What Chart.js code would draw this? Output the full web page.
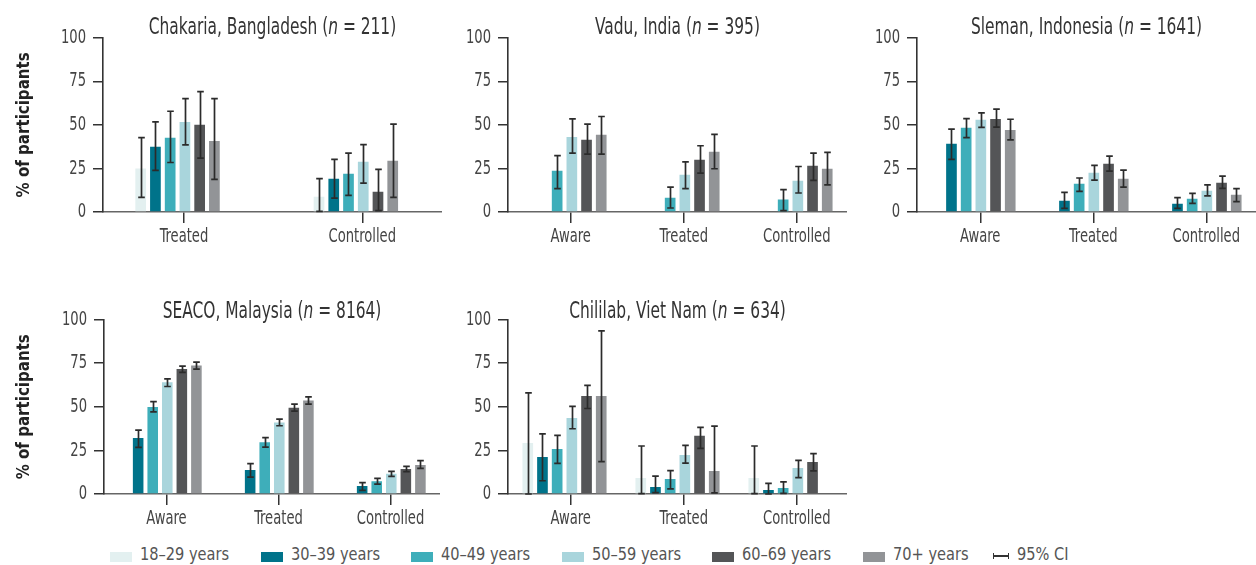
<!DOCTYPE html>
<html>
<head>
<meta charset="utf-8">
<script src="https://cdn.jsdelivr.net/npm/chart.js@4.4.0/dist/chart.umd.min.js"></script>
<style>
html, body { margin: 0; padding: 0; background: #fff; }
body { width: 1256px; height: 565px; position: relative; overflow: hidden;
  font-family: 'DejaVu Sans Condensed', 'Liberation Sans Narrow', sans-serif; }
canvas { position: absolute; }
.lg-box { position: absolute; width: 22px; height: 10px; }
.lg-txt { position: absolute; font-size: 18px; line-height: 20px; color: #555; white-space: nowrap;
  transform: scaleX(0.9); transform-origin: 0 50%; }
.lg-ci { position: absolute; width: 14px; height: 6px; border-left: 1.5px solid #333; border-right: 1.5px solid #333; }
.lg-ci::after { content: ''; position: absolute; left: 0; right: 0; top: 2.25px; height: 1.5px; background: #333; }
</style>
</head>
<body>
<canvas id="c0" data-condense="0.73" data-condense-bold="0.93"></canvas>
<canvas id="c1" data-condense="0.73" data-condense-bold="0.93"></canvas>
<canvas id="c2" data-condense="0.73" data-condense-bold="0.93"></canvas>
<canvas id="c3" data-condense="0.73" data-condense-bold="0.93"></canvas>
<canvas id="c4" data-condense="0.73" data-condense-bold="0.93"></canvas>
<div id="legend"></div>
<script>
// ---------------- DATA ----------------
const ageGroups = ['18–29 years', '30–39 years', '40–49 years', '50–59 years', '60–69 years', '70+ years'];
const siteNames = ['Chakaria, Bangladesh', 'Vadu, India', 'Sleman, Indonesia', 'SEACO, Malaysia', 'Chililab, Viet Nam'];
const siteN = [211, 395, 1641, 8164, 634];
const chakariaCategories = ['Treated', 'Controlled'];
const outcomeCategories = ['Aware', 'Treated', 'Controlled'];
const yTicks = [0, 25, 50, 75, 100];
const yAxisLabel = '% of participants';
const ciLabel = '95% CI';

// rows = age groups, columns = categories (%)
const chakariaPct  = [[25.0, 8.8], [37.4, 19.1], [42.6, 21.9], [51.7, 28.8], [50.0, 11.6], [40.8, 29.4]];
const chakariaLow  = [[8.4, 0.4], [23.9, 8.0], [28.4, 9.5], [38.5, 16.6], [30.9, 0.8], [18.7, 8.4]];
const chakariaHigh = [[42.7, 19.1], [51.7, 30.2], [57.8, 33.8], [65.1, 38.7], [69.1, 24.4], [65.1, 50.4]];

const vaduPct  = [[null, null, null], [null, null, null], [23.7, 8.2, 7.1], [43.1, 21.4, 17.9], [41.4, 30.0, 26.5], [44.3, 34.5, 24.8]];
const vaduLow  = [[null, null, null], [null, null, null], [13.4, 2.3, 0.8], [33.8, 13.4, 10.9], [33.2, 22.3, 18.1], [33.2, 24.8, 15.6]];
const vaduHigh = [[null, null, null], [null, null, null], [32.4, 14.3, 12.8], [53.4, 28.8, 26.1], [50.4, 38.0, 33.8], [54.8, 44.5, 34.2]];

const slemanPct  = [[null, null, null], [39.1, 6.5, 4.8], [48.3, 16.2, 7.6], [52.9, 22.5, 12.2], [53.4, 27.7, 16.8], [47.1, 19.1, 9.9]];
const slemanLow  = [[null, null, null], [30.2, 2.1, 2.1], [42.7, 11.8, 5.0], [48.5, 18.3, 9.2], [48.7, 23.5, 13.5], [41.4, 14.3, 5.9]];
const slemanHigh = [[null, null, null], [47.5, 11.3, 8.2], [53.6, 19.5, 10.7], [56.9, 26.7, 15.6], [59.0, 32.1, 20.6], [53.2, 24.0, 13.4]];

const seacoPct  = [[null, null, null], [32.1, 13.7, 4.6], [49.8, 29.6, 7.3], [64.1, 41.0, 11.6], [71.6, 49.4, 14.3], [73.7, 53.6, 16.6]];
const seacoLow  = [[null, null, null], [26.7, 9.7, 2.1], [47.1, 26.9, 5.7], [61.6, 39.1, 10.1], [69.7, 47.5, 12.8], [71.6, 51.5, 14.7]];
const seacoHigh = [[null, null, null], [36.6, 17.4, 6.5], [52.9, 32.3, 9.0], [66.0, 42.9, 13.0], [73.3, 51.5, 15.8], [75.6, 55.7, 19.1]];

const chililabPct  = [[29.2, 9.2, 9.2], [21.2, 4.0, 2.3], [25.8, 8.6, 3.4], [43.5, 22.3, 14.9], [56.1, 33.4, 18.3], [56.1, 13.2, null]];
const chililabLow  = [[0.0, 0.2, 0.2], [7.6, 0.8, 0.0], [17.6, 2.9, 0.4], [37.4, 17.7, 9.4], [49.0, 26.1, 13.2], [18.5, 0.6, null]];
const chililabHigh = [[58.0, 27.5, 27.5], [34.5, 10.3, 6.1], [33.6, 13.4, 6.9], [50.2, 27.9, 19.3], [62.2, 38.2, 23.1], [93.5, 38.9, null]];

// ---------------- STYLE ----------------
const ageColors = ['#e3f0f0', '#00738a', '#3eaeba', '#a9d5dc', '#545557', '#929497'];
const FONT = "'DejaVu Sans Condensed', 'Liberation Sans Narrow', sans-serif";
const TITLE_SIZE = 23.5;

// Condensed rendering of canvas text to mimic the narrow typeface
const _fillText = CanvasRenderingContext2D.prototype.fillText;
CanvasRenderingContext2D.prototype.fillText = function (text, x, y, maxWidth) {
  const c = this.canvas;
  let k = 1;
  if (c && c.dataset && c.dataset.condense) {
    k = /bold/.test(this.font) ? parseFloat(c.dataset.condenseBold || '1') : parseFloat(c.dataset.condense);
  }
  if (k === 1) return _fillText.apply(this, arguments);
  this.save();
  this.translate(x, y);
  this.scale(k, 1);
  if (maxWidth !== undefined) _fillText.call(this, text, 0, 0, maxWidth / k);
  else _fillText.call(this, text, 0, 0);
  this.restore();
};

const panels = [
  { site: 0, cats: chakariaCategories, pct: chakariaPct, low: chakariaLow, high: chakariaHigh,
    left: 0, top: 0, width: 442, axisW: 103, yTitle: true, xMin: -0.418, xMax: 1.483, shift: 0.036, catPct: 0.496, padTop: 37.7, titleY: 27.5 },
  { site: 1, cats: outcomeCategories, pct: vaduPct, low: vaduLow, high: vaduHigh,
    left: 450, top: 0, width: 397, axisW: 58, yTitle: false, xMin: -0.5, xMax: 2.5, shift: 0.055, catPct: 0.78, padTop: 37.7, titleY: 27.5 },
  { site: 2, cats: outcomeCategories, pct: slemanPct, low: slemanLow, high: slemanHigh,
    left: 860, top: 0, width: 396, axisW: 57, yTitle: false, xMin: -0.5, xMax: 2.5, shift: 0.06, catPct: 0.78, padTop: 37.7, titleY: 27.5 },
  { site: 3, cats: outcomeCategories, pct: seacoPct, low: seacoLow, high: seacoHigh,
    left: 0, top: 282, width: 440, axisW: 104, yTitle: true, xMin: -0.5, xMax: 2.5, shift: 0.058, catPct: 0.78, padTop: 37.5, titleY: 30 },
  { site: 4, cats: outcomeCategories, pct: chililabPct, low: chililabLow, high: chililabHigh,
    left: 450, top: 282, width: 397, axisW: 58, yTitle: false, xMin: -0.5, xMax: 2.5, shift: 0.055, catPct: 0.78, padTop: 37.5, titleY: 30 }
];
const CANVAS_H = 252;

const titlePlugin = {
  id: 'siteTitle',
  afterDraw(chart, args, opts) {
    const ctx = chart.ctx, a = chart.chartArea;
    const k = parseFloat(chart.canvas.dataset.condense || '1');
    const parts = [[opts.name + ' (', 'normal'], ['n', 'italic'], [' = ' + opts.n + ')', 'normal']];
    ctx.save();
    ctx.fillStyle = '#333';
    ctx.textBaseline = 'middle';
    ctx.textAlign = 'left';
    const widths = parts.map(p => { ctx.font = p[1] + ' ' + TITLE_SIZE + 'px ' + FONT; return ctx.measureText(p[0]).width * k; });
    const total = widths.reduce((s, w) => s + w, 0);
    let x = (a.left + a.right) / 2 - total / 2;
    parts.forEach((p, i) => { ctx.font = p[1] + ' ' + TITLE_SIZE + 'px ' + FONT; ctx.fillText(p[0], x, opts.y); x += widths[i]; });
    ctx.restore();
  }
};

const ciPlugin = {
  id: 'ciBars',
  afterDatasetsDraw(chart) {
    const ctx = chart.ctx, yS = chart.scales.y;
    ctx.save();
    ctx.strokeStyle = '#2b2b2b';
    ctx.lineWidth = 1.7;
    chart.data.datasets.forEach((ds, di) => {
      const meta = chart.getDatasetMeta(di);
      meta.data.forEach((bar, i) => {
        const v = ds.data[i].y, lo = ds.ciLow[i], hi = ds.ciHigh[i];
        if (v == null || lo == null || hi == null) return;
        const x = Math.round(bar.x) + 0.5;
        const y1 = yS.getPixelForValue(lo), y2 = yS.getPixelForValue(hi);
        ctx.beginPath();
        ctx.moveTo(x, y1); ctx.lineTo(x, y2);
        ctx.moveTo(x - 3.3, y1); ctx.lineTo(x + 3.3, y1);
        ctx.moveTo(x - 3.3, y2); ctx.lineTo(x + 3.3, y2);
        ctx.stroke();
      });
    });
    ctx.restore();
  }
};

function build() {
  panels.forEach((p, k) => {
    const cv = document.getElementById('c' + k);
    cv.width = p.width; cv.height = CANVAS_H;
    cv.style.left = p.left + 'px'; cv.style.top = p.top + 'px';
    cv.style.width = p.width + 'px'; cv.style.height = CANVAS_H + 'px';
    const datasets = ageGroups.map((g, gi) => ({
      label: g,
      data: p.cats.map((c, ci) => ({ x: ci, y: p.pct[gi][ci] })),
      ciLow: p.low[gi],
      ciHigh: p.high[gi],
      backgroundColor: ageColors[gi],
      borderWidth: 0,
      categoryPercentage: p.catPct,
      barPercentage: 0.726
    }));
    new Chart(cv, {
      type: 'bar',
      data: { datasets },
      plugins: [titlePlugin, ciPlugin],
      options: {
        responsive: false,
        animation: false,
        devicePixelRatio: 1,
        layout: { padding: { top: p.padTop, left: 0, right: 0, bottom: 0 } },
        plugins: {
          legend: { display: false },
          tooltip: { enabled: false },
          title: { display: false },
          siteTitle: { name: siteNames[p.site], n: siteN[p.site], y: p.titleY }
        },
        scales: {
          x: {
            type: 'linear',
            offset: false,
            min: p.xMin, max: p.xMax,
            bounds: 'data',
            afterBuildTicks(s) { s.ticks = p.cats.map((c, i) => ({ value: i + p.shift })); },
            afterFit(s) { s.height = 40; },
            ticks: { autoSkip: false, maxRotation: 0, minRotation: 0, padding: 2,
              font: { family: FONT, size: 20 }, color: '#444',
              callback: (v, i) => p.cats[i] },
            grid: { offset: false, drawOnChartArea: false, drawTicks: true, tickLength: 11, color: '#333', lineWidth: 1.5 },
            border: { display: true, color: '#666', width: 1.6 }
          },
          y: {
            min: 0, max: 100,
            afterBuildTicks(s) { s.ticks = yTicks.map(v => ({ value: v })); },
            afterFit(s) { s.width = p.axisW; },
            ticks: { padding: 7, font: { family: FONT, size: 20 }, color: '#444' },
            grid: { drawOnChartArea: false, drawTicks: true, tickLength: 10, color: '#333', lineWidth: 1.5 },
            border: { display: true, color: '#333', width: 1.6 },
            title: { display: p.yTitle, text: yAxisLabel, color: '#222',
              font: { family: FONT, size: 18, weight: 'bold' }, padding: { top: 14, bottom: 0 } }
          }
        }
      }
    });
  });

  const lg = document.getElementById('legend');
  ageGroups.forEach((g, i) => {
    const x = 110 + i * 150.5;
    const b = document.createElement('div');
    b.className = 'lg-box';
    b.style.left = x + 'px'; b.style.top = '552px'; b.style.background = ageColors[i];
    lg.appendChild(b);
    const t = document.createElement('div');
    t.className = 'lg-txt';
    t.style.left = (x + 30) + 'px'; t.style.top = '544px';
    t.textContent = g;
    lg.appendChild(t);
  });
  const ci = document.createElement('div');
  ci.className = 'lg-ci';
  ci.style.left = '993px'; ci.style.top = '553px';
  lg.appendChild(ci);
  const ct = document.createElement('div');
  ct.className = 'lg-txt';
  ct.style.left = '1017px'; ct.style.top = '544px';
  ct.textContent = ciLabel;
  lg.appendChild(ct);
}

build();
</script>
</body>
</html>
